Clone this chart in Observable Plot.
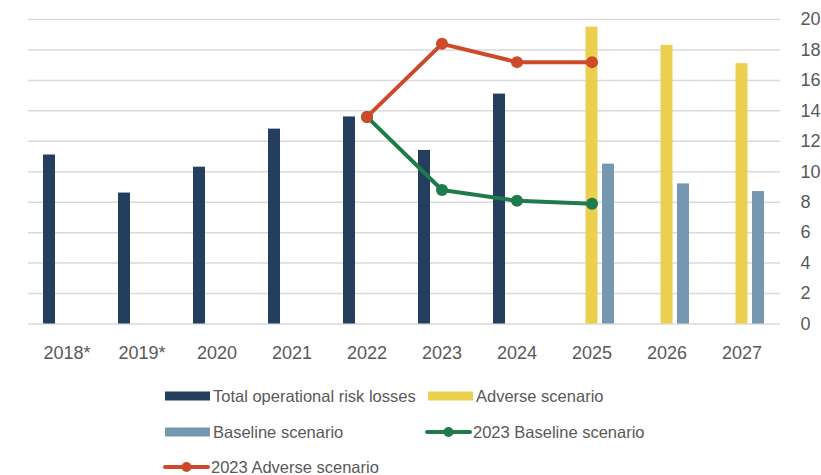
<!DOCTYPE html>
<html>
<head>
<meta charset="utf-8">
<script src="https://cdn.jsdelivr.net/npm/d3@7"></script>
<script src="https://cdn.jsdelivr.net/npm/@observablehq/plot@0.6"></script>
<style>
  html, body { margin: 0; padding: 0; background: #ffffff; }
  #wrap { position: relative; width: 821px; height: 475px; overflow: hidden; font-family: "Liberation Sans", Arial, sans-serif; color: #595959; }
  #chart { position: absolute; left: 0; top: 0; }
  .leg { position: absolute; font-size: 16.5px; line-height: 20px; white-space: nowrap; color: #595959; }
  .leg svg { position: absolute; left: 0; top: 0; }
</style>
</head>
<body>
<div id="wrap">
  <div id="chart"></div>
  <div id="legend"></div>
</div>
<script>
// ---- data ----
const years = ["2018*", "2019*", "2020", "2021", "2022", "2023", "2024", "2025", "2026", "2027"];
const totalYears = ["2018*", "2019*", "2020", "2021", "2022", "2023", "2024"];
const totalLosses = [11.1, 8.6, 10.3, 12.8, 13.6, 11.4, 15.1];
const scenarioYears = ["2025", "2026", "2027"];
const adverseScenario = [19.5, 18.3, 17.1];
const baselineScenario = [10.5, 9.2, 8.7];
const lineYears = ["2022", "2023", "2024", "2025"];
const adverse2023 = [13.6, 18.4, 17.2, 17.2];
const baseline2023 = [13.6, 8.8, 8.1, 7.9];
const yTicks = [0, 2, 4, 6, 8, 10, 12, 14, 16, 18, 20];

const seriesNames = {
  total: "Total operational risk losses",
  adverse: "Adverse scenario",
  baseline: "Baseline scenario",
  base23: "2023 Baseline scenario",
  adv23: "2023 Adverse scenario"
};
const colors = {
  total: "#243e5d",
  adverse: "#ebcf4e",
  baseline: "#7597b0",
  base23: "#1f7a4c",
  adv23: "#cc4a29"
};

// ---- tables ----
const totalData = totalYears.map((y, i) => ({year: y, value: totalLosses[i]}));
const advData = scenarioYears.map((y, i) => ({year: y, value: adverseScenario[i]}));
const baseData = scenarioYears.map((y, i) => ({year: y, value: baselineScenario[i]}));
const adv23Data = lineYears.map((y, i) => ({year: y, value: adverse2023[i]}));
const base23Data = lineYears.map((y, i) => ({year: y, value: baseline2023[i]}));

const chart = Plot.plot({
  width: 821,
  height: 375,
  marginLeft: 28,
  marginRight: 41,
  marginTop: 19,
  marginBottom: 51.5,
  style: {fontFamily: "'Liberation Sans', Arial, sans-serif", fontSize: "18px", color: "#595959", background: "transparent", overflow: "visible"},
  x: {domain: years, padding: 0, label: null},
  y: {domain: [0, 20], label: null},
  marks: [
    Plot.ruleY(yTicks, {stroke: "#d9d9d9", strokeWidth: 1.5, strokeOpacity: 1}),
    Plot.barY(totalData, {x: "year", y: "value", fill: colors.total, insetLeft: 14, insetRight: 49}),
    Plot.barY(advData, {x: "year", y: "value", fill: colors.adverse, insetLeft: 31.5, insetRight: 31.5}),
    Plot.barY(baseData, {x: "year", y: "value", fill: colors.baseline, insetLeft: 48, insetRight: 15}),
    Plot.line(base23Data, {x: "year", y: "value", stroke: colors.base23, strokeWidth: 4, curve: "linear"}),
    Plot.dot(base23Data, {x: "year", y: "value", fill: colors.base23, r: 6}),
    Plot.line(adv23Data, {x: "year", y: "value", stroke: colors.adv23, strokeWidth: 4, curve: "linear"}),
    Plot.dot(adv23Data, {x: "year", y: "value", fill: colors.adv23, r: 6}),
    Plot.axisX({tickSize: 0, tickPadding: 22, fill: "#595959", fontSize: 18, label: null}),
    Plot.axisY({anchor: "right", ticks: yTicks, tickSize: 0, tickPadding: 20, textAnchor: "start", fill: "#595959", fontSize: 18, label: null})
  ]
});
document.getElementById("chart").appendChild(chart);

// ---- legend ----
const legendItems = [
  {key: "total", type: "rect", x: 165, y: 396},
  {key: "adverse", type: "rect", x: 428, y: 396},
  {key: "baseline", type: "rect", x: 165, y: 432},
  {key: "base23", type: "line", x: 425, y: 432},
  {key: "adv23", type: "line", x: 163, y: 467}
];
const legend = document.getElementById("legend");
legendItems.forEach(it => {
  const div = document.createElement("div");
  div.className = "leg";
  div.style.left = it.x + "px";
  div.style.top = (it.y - 10) + "px";
  div.style.paddingLeft = "48px";
  const c = colors[it.key];
  const sym = it.type === "rect"
    ? `<rect x="0" y="5.5" width="45" height="9" fill="${c}"/>`
    : `<line x1="2" y1="10" x2="45" y2="10" stroke="${c}" stroke-width="4" stroke-linecap="round"/><circle cx="23.5" cy="10" r="5" fill="${c}"/>`;
  div.innerHTML = `<svg width="48" height="20">${sym}</svg>${seriesNames[it.key]}`;
  legend.appendChild(div);
});
</script>
</body>
</html>
